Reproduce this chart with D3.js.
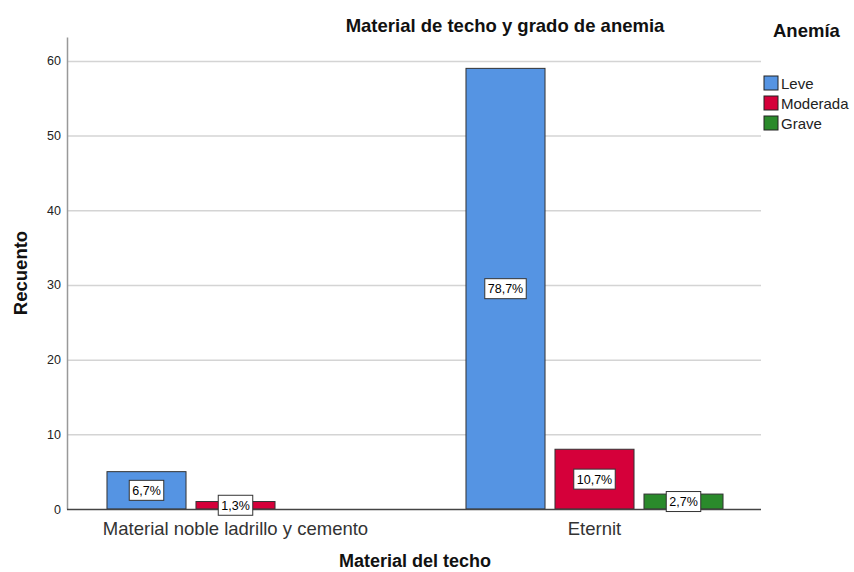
<!DOCTYPE html>
<head>
  <meta charset="UTF-8">
  <title>Material de techo y grado de anemia</title>
  <style>
  body, html, svg{ padding: 0; margin: 0; }
  body{ background: #fff; }
  svg text{ font-family: "Liberation Sans", Arial, sans-serif; }
  </style>
</head>
<body>
  <script src="https://cdn.jsdelivr.net/npm/d3@7/dist/d3.min.js"></script>
  <script type="text/javascript">
  // datos
  var categorias = ['Material noble ladrillo y cemento', 'Eternit'];
  var series = ['Leve', 'Moderada', 'Grave'];
  var leve = [5, 59];
  var moderada = [1, 8];
  var grave = [0, 2];
  var etiquetasLeve = ['6,7%', '78,7%'];
  var etiquetasModerada = ['1,3%', '10,7%'];
  var etiquetasGrave = [null, '2,7%'];
  var colores = ['#5594e3', '#d5003a', '#2a8a2b'];
  var ticksY = [0, 10, 20, 30, 40, 50, 60];

  var valores = [leve, moderada, grave];
  var etiquetas = [etiquetasLeve, etiquetasModerada, etiquetasGrave];

  var width = 854, height = 572;
  var mIzq = 67, mDer = 761, mSup = 37, mInf = 509;

  var svg = d3.select('body').append('svg')
    .attr('width', width)
    .attr('height', height);

  var y = d3.scaleLinear().domain([0, 63.2]).range([mInf, mSup]);
  var x = d3.scaleBand().domain(categorias).range([56, 774]).padding(0);
  var xs = d3.scaleBand().domain(series).range([-133.5, 133.5])
    .paddingInner(0.112).paddingOuter(0.056);

  // grilla
  svg.selectAll('.grid')
    .data(ticksY.filter(function(d) { return d > 0; }))
    .enter().append('line')
    .attr('x1', mIzq).attr('x2', mDer)
    .attr('y1', function(d) { return y(d) + 0.5; })
    .attr('y2', function(d) { return y(d) + 0.5; })
    .attr('stroke', '#d4d4d4').attr('stroke-width', 1.5);

  // eje y
  var ejeY = svg.append('g')
    .attr('transform', 'translate(' + mIzq + ',0)')
    .call(d3.axisLeft(y).tickValues(ticksY).tickSize(0).tickPadding(6));
  ejeY.select('.domain').attr('stroke', '#999').attr('stroke-width', 1.5);
  ejeY.selectAll('text').attr('font-size', 12.5).attr('fill', '#222')
    .attr('font-family', '"Liberation Sans", Arial, sans-serif');

  // barras
  var filas = [];
  series.forEach(function(s, i) {
    categorias.forEach(function(c, j) {
      filas.push({ serie: s, cat: c, v: valores[i][j], et: etiquetas[i][j], color: colores[i] });
    });
  });

  svg.selectAll('.bar')
    .data(filas.filter(function(d) { return d.v > 0; }))
    .enter().append('rect')
    .attr('x', function(d) { return x(d.cat) + x.bandwidth() / 2 + xs(d.serie); })
    .attr('y', function(d) { return y(d.v); })
    .attr('width', xs.bandwidth())
    .attr('height', function(d) { return mInf - y(d.v); })
    .attr('fill', function(d) { return d.color; })
    .attr('stroke', '#333').attr('stroke-width', 1);

  // eje x
  svg.append('line')
    .attr('x1', mIzq).attr('x2', mDer)
    .attr('y1', mInf + 0.5).attr('y2', mInf + 0.5)
    .attr('stroke', '#444').attr('stroke-width', 1.5);

  // etiquetas de porcentaje
  var lab = svg.selectAll('.lab')
    .data(filas.filter(function(d) { return d.et; }))
    .enter().append('g')
    .attr('transform', function(d) {
      var cx = x(d.cat) + x.bandwidth() / 2 + xs(d.serie) + xs.bandwidth() / 2;
      var cy = (y(d.v) + mInf) / 2;
      return 'translate(' + cx + ',' + cy + ')';
    });
  lab.each(function(d) {
    var g = d3.select(this);
    var t = g.append('text').text(d.et)
      .attr('text-anchor', 'middle').attr('dy', '0.36em')
      .attr('font-size', 12.5).attr('fill', '#000');
    var w = t.node().getComputedTextLength() + 6;
    g.insert('rect', 'text')
      .attr('x', -w / 2).attr('y', -10)
      .attr('width', w).attr('height', 20)
      .attr('fill', '#fff').attr('stroke', '#333').attr('stroke-width', 1);
  });

  // etiquetas de categorias
  svg.selectAll('.cat')
    .data(categorias)
    .enter().append('text')
    .attr('x', function(d) { return x(d) + x.bandwidth() / 2; })
    .attr('y', 535)
    .attr('text-anchor', 'middle')
    .attr('font-size', 18.5).attr('fill', '#333')
    .text(function(d) { return d; });

  // titulos
  svg.append('text').attr('x', 505).attr('y', 32)
    .attr('text-anchor', 'middle').attr('font-size', 18.5).attr('font-weight', 'bold')
    .attr('fill', '#111')
    .text('Material de techo y grado de anemia');

  svg.append('text').attr('x', 415).attr('y', 567)
    .attr('text-anchor', 'middle').attr('font-size', 18).attr('font-weight', 'bold')
    .attr('fill', '#111')
    .text('Material del techo');

  svg.append('text')
    .attr('transform', 'translate(27,273) rotate(-90)')
    .attr('text-anchor', 'middle').attr('font-size', 18.5).attr('font-weight', 'bold')
    .attr('fill', '#111')
    .text('Recuento');

  // leyenda
  svg.append('text').attr('x', 773).attr('y', 37)
    .attr('font-size', 18.5).attr('font-weight', 'bold').attr('fill', '#111')
    .text('Anemía');

  var ley = svg.selectAll('.ley')
    .data(series)
    .enter().append('g')
    .attr('transform', function(d, i) { return 'translate(764,' + (76 + i * 20) + ')'; });
  ley.append('rect')
    .attr('width', 14).attr('height', 14)
    .attr('fill', function(d, i) { return colores[i]; })
    .attr('stroke', '#222').attr('stroke-width', 1);
  ley.append('text')
    .attr('x', 17).attr('y', 12.5)
    .attr('font-size', 15).attr('fill', '#222')
    .text(function(d) { return d; });
  </script>
</body>
</html>
